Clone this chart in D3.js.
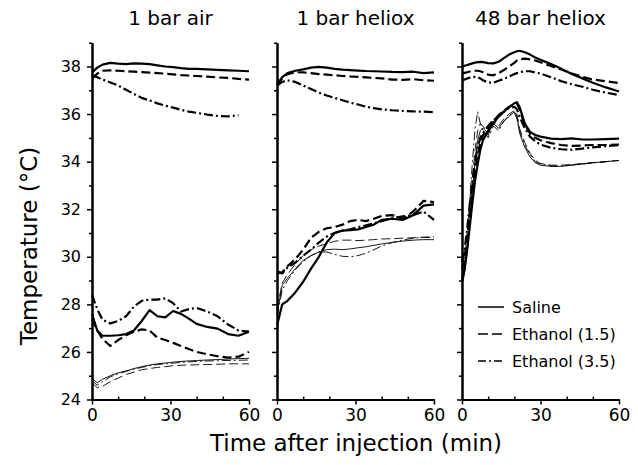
<!DOCTYPE html>
<html>
<head>
<meta charset="utf-8">
<script src="https://cdn.jsdelivr.net/npm/d3@7"></script>
<style>
  body { margin: 0; background: #fff; }
  text { font-family: "DejaVu Sans", Verdana, sans-serif; fill: #000; }
</style>
</head>
<body>
<svg id="chart" width="638" height="465"></svg>
<script>
// ---- data ----
var panelTitles = ['1 bar air', '1 bar heliox', '48 bar heliox'];
var legendLabels = ['Saline', 'Ethanol (1.5)', 'Ethanol (3.5)'];
var xTicks = [0, 30, 60];
var yTicks = [24, 26, 28, 30, 32, 34, 36, 38];

// 1 bar air
var timesAir = [0, 2, 4, 7, 10, 13, 16, 19, 22, 25, 28, 31, 34, 37, 40, 44, 48, 52, 56, 60];
var airSaline    = [37.75, 37.95, 38.08, 38.15, 38.12, 38.1, 38.13, 38.12, 38.1, 38.05, 38.0, 37.97, 37.93, 37.9, 37.9, 37.88, 37.86, 37.84, 37.82, 37.8];
var airEth15     = [37.5, 37.7, 37.82, 37.84, 37.82, 37.8, 37.78, 37.76, 37.74, 37.72, 37.7, 37.67, 37.64, 37.62, 37.6, 37.57, 37.54, 37.52, 37.48, 37.45];
var airEth35     = [37.6, 37.55, 37.45, 37.33, 37.2, 37.02, 36.85, 36.68, 36.57, 36.45, 36.35, 36.27, 36.18, 36.1, 36.05, 35.98, 35.92, 35.9, 35.95, null];
var airSalineLow = [27.6, 26.9, 26.68, 26.68, 26.7, 26.75, 26.9, 27.3, 27.76, 27.5, 27.45, 27.72, 27.6, 27.4, 27.18, 27.05, 26.98, 26.75, 26.68, 26.85];
var airEth15Low  = [27.4, 26.9, 26.55, 26.25, 26.5, 26.7, 26.85, 26.95, 26.9, 26.6, 26.5, 26.38, 26.25, 26.12, 26.0, 25.9, 25.82, 25.76, 25.8, 26.0];
var airEth35Low  = [28.4, 27.8, 27.35, 27.2, 27.3, 27.5, 27.9, 28.15, 28.2, 28.2, 28.25, 28.05, 27.7, 27.8, 27.85, 27.7, 27.5, 27.15, 26.9, 26.85];
var airSalineThin = [24.9, 24.7, 24.85, 25.0, 25.12, 25.2, 25.3, 25.38, 25.45, 25.5, 25.53, 25.57, 25.6, 25.62, 25.64, 25.66, 25.68, 25.7, 25.72, 25.73];
var airEth15Thin  = [24.7, 24.5, 24.55, 24.75, 24.9, 25.05, 25.15, 25.25, 25.3, 25.35, 25.38, 25.42, 25.44, 25.45, 25.46, 25.47, 25.48, 25.5, 25.5, 25.5];
var airEth35Thin  = [24.8, 24.6, 24.75, 24.95, 25.08, 25.18, 25.27, 25.35, 25.42, 25.47, 25.5, 25.53, 25.56, 25.58, 25.6, 25.62, 25.63, 25.64, 25.65, 25.66];

// 1 bar heliox
var timesHel = [0, 2, 4, 7, 10, 13, 16, 19, 22, 25, 28, 31, 34, 37, 40, 44, 48, 52, 56, 60];
var helSaline    = [37.25, 37.55, 37.72, 37.82, 37.88, 37.95, 37.98, 37.95, 37.9, 37.87, 37.85, 37.83, 37.81, 37.8, 37.79, 37.77, 37.76, 37.78, 37.72, 37.75];
var helEth15     = [37.2, 37.5, 37.68, 37.76, 37.75, 37.72, 37.68, 37.66, 37.63, 37.6, 37.58, 37.56, 37.54, 37.52, 37.5, 37.45, 37.44, 37.47, 37.42, 37.4];
var helEth35     = [37.2, 37.35, 37.42, 37.35, 37.2, 37.05, 36.9, 36.78, 36.68, 36.58, 36.48, 36.4, 36.31, 36.25, 36.2, 36.16, 36.13, 36.11, 36.1, 36.08];
var helSalineLow = [27.1, 28.0, 28.15, 28.5, 28.95, 29.5, 30.0, 30.6, 31.0, 31.1, 31.12, 31.15, 31.25, 31.35, 31.55, 31.6, 31.55, 31.75, 32.15, 32.2];
var helEth15Low  = [29.3, 29.35, 29.6, 29.9, 30.3, 30.8, 31.05, 31.2, 31.25, 31.35, 31.5, 31.55, 31.5, 31.6, 31.72, 31.75, 31.6, 31.9, 32.35, 32.3];
var helEth35Low  = [29.4, 29.3, 29.55, 29.75, 30.05, 30.3, 30.6, 30.85, 31.0, 31.1, 31.15, 31.25, 31.32, 31.4, 31.5, 31.62, 31.7, 31.75, 31.9, 31.55];
var helSalineThin = [27.6, 28.8, 29.1, 29.5, 29.85, 30.05, 30.2, 30.3, 30.32, 30.3, 30.33, 30.38, 30.42, 30.48, 30.54, 30.6, 30.66, 30.7, 30.72, 30.72];
var helEth15Thin  = [27.8, 28.9, 29.25, 29.7, 30.05, 30.3, 30.45, 30.55, 30.65, 30.7, 30.7, 30.68, 30.7, 30.72, 30.75, 30.76, 30.78, 30.8, 30.82, 30.85];
var helEth35Thin  = [27.5, 28.6, 29.0, 29.45, 29.8, 30.05, 30.2, 30.2, 30.1, 30.02, 30.0, 30.05, 30.15, 30.3, 30.45, 30.6, 30.7, 30.78, 30.82, 30.8];

// 48 bar heliox
var timesHp = [0, 1, 2, 3, 4, 5, 6, 7, 8, 10, 12, 14, 16, 18, 20, 21, 22, 24, 26, 28, 30, 34, 38, 42, 46, 50, 55, 60];
var hpSaline    = [38.0, 38.03, 38.06, 38.1, 38.13, 38.16, 38.18, 38.19, 38.18, 38.14, 38.13, 38.2, 38.35, 38.5, 38.6, 38.64, 38.66, 38.6, 38.5, 38.38, 38.28, 38.1, 37.9, 37.68, 37.5, 37.32, 37.12, 36.95];
var hpEth15     = [37.7, 37.73, 37.76, 37.79, 37.81, 37.82, 37.82, 37.8, 37.76, 37.66, 37.63, 37.72, 37.85, 38.0, 38.15, 38.25, 38.3, 38.33, 38.3, 38.25, 38.18, 38.02, 37.87, 37.7, 37.57, 37.45, 37.38, 37.3];
var hpEth35     = [37.4, 37.45, 37.5, 37.53, 37.55, 37.56, 37.55, 37.5, 37.42, 37.33, 37.32, 37.4, 37.48, 37.58, 37.68, 37.72, 37.76, 37.8, 37.8, 37.75, 37.7, 37.55, 37.38, 37.25, 37.15, 37.02, 36.9, 36.8];
var hpSalineLow = [29.0, 29.5, 30.3, 31.3, 32.3, 33.2, 33.9, 34.5, 34.9, 35.3, 35.6, 35.9, 36.1, 36.3, 36.45, 36.5, 36.3, 35.6, 35.25, 35.12, 35.05, 34.97, 34.95, 34.98, 34.93, 34.93, 34.95, 34.97];
var hpEth15Low  = [29.5, 30.0, 30.8, 31.8, 32.8, 33.6, 34.3, 34.8, 35.1, 35.4, 35.7, 35.95, 36.15, 36.3, 36.4, 36.45, 36.2, 35.55, 35.2, 35.0, 34.9, 34.78, 34.7, 34.66, 34.68, 34.7, 34.7, 34.72];
var hpEth35Low  = [29.8, 30.3, 31.2, 32.2, 33.2, 34.0, 34.6, 35.0, 35.2, 35.5, 35.75, 35.9, 36.1, 36.25, 36.3, 36.2, 35.9, 35.4, 35.05, 34.85, 34.72, 34.58, 34.52, 34.5, 34.55, 34.6, 34.65, 34.7];
var hpSalineThin = [28.8, 29.3, 30.2, 31.4, 32.8, 34.0, 34.9, 35.3, 35.4, 35.2, 35.6, 35.4, 35.7, 35.9, 36.1, 35.9, 35.2, 34.6, 34.2, 33.95, 33.85, 33.8, 33.8, 33.85, 33.9, 33.95, 34.0, 34.05];
var hpEth15Thin  = [29.0, 29.6, 30.6, 31.9, 33.3, 34.5, 35.3, 35.6, 35.5, 35.1, 35.7, 35.5, 35.8, 36.0, 36.15, 36.0, 35.4, 34.8, 34.35, 34.05, 33.92, 33.85, 33.85, 33.88, 33.92, 33.96, 34.0, 34.05];
var hpEth35Thin  = [29.2, 29.9, 31.0, 32.5, 34.0, 35.4, 36.1, 35.6, 35.3, 35.0, 35.5, 35.3, 35.7, 35.95, 36.05, 35.8, 35.3, 34.7, 34.3, 34.0, 33.9, 33.82, 33.82, 33.86, 33.9, 33.95, 34.0, 34.05];

// ---- layout ----
var width = 638, height = 465;
var panelLeft = [92, 277, 462];
var panelWidth = 157;
var dashes = { solid: null, dashed: '9,4', dashdot: '9,3,2,3' };

var panels = [
    { times: timesAir, series: [
        [airSaline, 'solid', false], [airEth15, 'dashed', false], [airEth35, 'dashdot', false],
        [airSalineLow, 'solid', false], [airEth15Low, 'dashed', false], [airEth35Low, 'dashdot', false],
        [airSalineThin, 'solid', true], [airEth15Thin, 'dashed', true], [airEth35Thin, 'dashdot', true]] },
    { times: timesHel, series: [
        [helSaline, 'solid', false], [helEth15, 'dashed', false], [helEth35, 'dashdot', false],
        [helSalineLow, 'solid', false], [helEth15Low, 'dashed', false], [helEth35Low, 'dashdot', false],
        [helSalineThin, 'solid', true], [helEth15Thin, 'dashed', true], [helEth35Thin, 'dashdot', true]] },
    { times: timesHp, series: [
        [hpSaline, 'solid', false], [hpEth15, 'dashed', false], [hpEth35, 'dashdot', false],
        [hpSalineLow, 'solid', false], [hpEth15Low, 'dashed', false], [hpEth35Low, 'dashdot', false],
        [hpSalineThin, 'solid', true], [hpEth15Thin, 'dashed', true], [hpEth35Thin, 'dashdot', true]] }
];

var svg = d3.select('#chart');
svg.append('rect').attr('width', width).attr('height', height).attr('fill', '#fff');

var y = d3.scaleLinear().domain([24, 39]).range([399.5, 42.7]);

panels.forEach(function(p, i) {
    var x = d3.scaleLinear().domain([0, 60]).range([panelLeft[i], panelLeft[i] + panelWidth]);
    var g = svg.append('g');

    var line = d3.line()
        .defined(function(d) { return d[1] != null; })
        .x(function(d) { return x(d[0]); })
        .y(function(d) { return y(d[1]); });

    p.series.forEach(function(s) {
        var pts = p.times.map(function(t, k) { return [t, s[0][k]]; });
        g.append('path')
            .datum(pts)
            .attr('d', line)
            .attr('fill', 'none')
            .attr('stroke', '#000')
            .attr('stroke-width', s[2] ? 0.9 : 2.2)
            .attr('stroke-linejoin', 'round')
            .attr('stroke-dasharray', dashes[s[1]]);
    });

    // y axis
    var yMajor = g.append('g').attr('transform', 'translate(' + panelLeft[i] + ',0)')
        .call(d3.axisLeft(y).tickValues(yTicks).tickSize(5).tickSizeOuter(0).tickPadding(6)
            .tickFormat(i === 0 ? d3.format('d') : function() { return ''; }));
    g.append('g').attr('transform', 'translate(' + panelLeft[i] + ',0)')
        .call(d3.axisLeft(y).tickValues(d3.range(25, 40, 2)).tickSize(3).tickSizeOuter(0).tickFormat(''));

    // x axis
    var xMajor = g.append('g').attr('transform', 'translate(0,' + y(24) + ')')
        .call(d3.axisBottom(x).tickValues(xTicks).tickSize(5).tickSizeOuter(0).tickPadding(4));
    g.append('g').attr('transform', 'translate(0,' + y(24) + ')')
        .call(d3.axisBottom(x).tickValues([10, 20, 40, 50]).tickSize(-3).tickSizeOuter(0).tickFormat(''));

    g.selectAll('.domain').attr('stroke-width', 2);
    g.selectAll('.tick line').attr('stroke-width', 1.5);
    yMajor.selectAll('text').style('font-size', '16px').style('font-family', '"DejaVu Sans", sans-serif');
    xMajor.selectAll('text').style('font-size', '17px').style('font-family', '"DejaVu Sans", sans-serif');

    svg.append('text')
        .attr('x', panelLeft[i] + panelWidth / 2)
        .attr('y', 25)
        .attr('text-anchor', 'middle')
        .style('font-size', '20px')
        .text(panelTitles[i]);
});

// axis titles
svg.append('text')
    .attr('transform', 'translate(37,' + 246 + ') rotate(-90)')
    .attr('text-anchor', 'middle')
    .style('font-size', '23px')
    .text('Temperature (°C)');

svg.append('text')
    .attr('x', 356)
    .attr('y', 451)
    .attr('text-anchor', 'middle')
    .style('font-size', '23px')
    .text('Time after injection (min)');

// legend
var legendY = [307, 334, 361];
var legendStyles = ['solid', 'dashed', 'dashdot'];
var legend = svg.append('g');
legendLabels.forEach(function(label, k) {
    legend.append('line')
        .attr('x1', 478).attr('x2', 504)
        .attr('y1', legendY[k]).attr('y2', legendY[k])
        .attr('stroke', '#000')
        .attr('stroke-width', 1.5)
        .attr('stroke-dasharray', legendStyles[k] === 'dashed' ? '10,4' : legendStyles[k] === 'dashdot' ? '8,3,2,3' : null);
    legend.append('text')
        .attr('x', 512)
        .attr('y', legendY[k])
        .attr('dy', '0.35em')
        .style('font-size', '16px')
        .text(label);
});
</script>
</body>
</html>
